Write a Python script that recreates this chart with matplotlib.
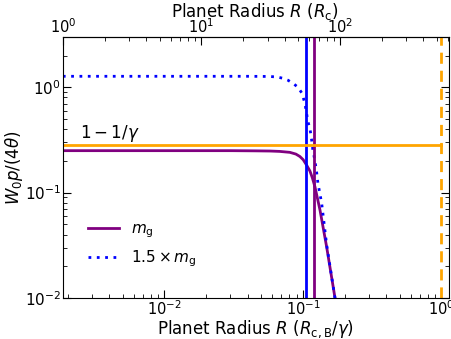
import matplotlib
matplotlib.use("Agg")
import matplotlib.pyplot as plt
from matplotlib.ticker import FixedLocator

# data
r_mg = [1.85e-3, 0.03, 0.045, 0.058, 0.068, 0.0805, 0.089, 0.0951, 0.1005, 0.1064, 0.1124,
        0.117, 0.1222, 0.1328, 0.1484, 0.170, 0.180]
w_mg = [0.250, 0.250, 0.249, 0.248, 0.246, 0.241, 0.232, 0.220, 0.205, 0.182, 0.160,
        0.138, 0.113, 0.0683, 0.0304, 0.0102, 0.0065]

r_15 = [1.85e-3, 0.04, 0.0578, 0.065, 0.0717, 0.078, 0.0847, 0.0921, 0.0984, 0.1033, 0.1064,
        0.1087, 0.1124, 0.1156, 0.118, 0.1222, 0.1256, 0.1283, 0.1365, 0.1484, 0.170, 0.180]
w_15 = [1.27, 1.27, 1.265, 1.25, 1.217, 1.165, 1.09, 1.0, 0.877, 0.705, 0.56,
        0.47, 0.405, 0.315, 0.253, 0.199, 0.156, 0.123, 0.0795, 0.0318, 0.0102, 0.0065]

r_vert_15 = 0.106
r_vert_mg = 0.121
r_dash = 1.0
gamma = 1.4
h_level = 1 - 1 / gamma
scale_top = 540.0  # R_c,B/gamma in units of R_c
top_major = [1, 10, 100]

fig = plt.figure(figsize=(4.52, 3.39), dpi=100)
ax = fig.add_axes([0.139, 0.121, 0.854, 0.770])

ax.plot(r_mg, w_mg, color="purple", lw=2, label=r"$m_{\rm g}$")
ax.plot(r_15, w_15, color="blue", lw=2, ls=(0, (1, 2)), label=r"$1.5\times m_{\rm g}$")
ax.axvline(r_vert_15, color="blue", lw=2)
ax.axvline(r_vert_mg, color="purple", lw=2)
ax.axvline(r_dash, color="orange", lw=2, ls=(0, (4, 2.5)))
ax.plot([1.85e-3, r_dash], [h_level, h_level], color="orange", lw=2)
ax.text(2.45e-3, 0.33, r"$1-1/\gamma$", fontsize=12)

ax.set_xscale("log")
ax.set_yscale("log")
ax.set_xlim(1.85e-3, 1.13)
ax.set_ylim(1e-2, 3.0)
ax.set_xlabel(r"Planet Radius $R$ ($R_{\rm c,B}/\gamma$)", fontsize=12, labelpad=0)
ax.set_ylabel(r"$W_0p/(4\theta)$", fontsize=12, labelpad=0)
ax.tick_params(which="both", direction="in", top=False, right=True, labelsize=10.5, pad=1)
ax.tick_params(axis="y", labelsize=11, pad=1.5)
ax.tick_params(which="major", length=6)
ax.tick_params(which="minor", length=3)

sec = ax.secondary_xaxis("top", functions=(lambda x: x * scale_top, lambda x: x / scale_top))
sec.xaxis.set_major_locator(FixedLocator(top_major))
sec.tick_params(which="both", direction="in", labelsize=10.5, pad=1)
sec.tick_params(which="major", length=6)
sec.tick_params(which="minor", length=3)
fig.text(0.564, 0.997, r"Planet Radius $R$ ($R_{\rm c}$)", fontsize=12,
         ha="center", va="top")

ax.legend(loc="lower left", frameon=False, fontsize=11, bbox_to_anchor=(0.03, 0.06),
          handlelength=2.0)

fig.savefig("out.png", dpi=100)
